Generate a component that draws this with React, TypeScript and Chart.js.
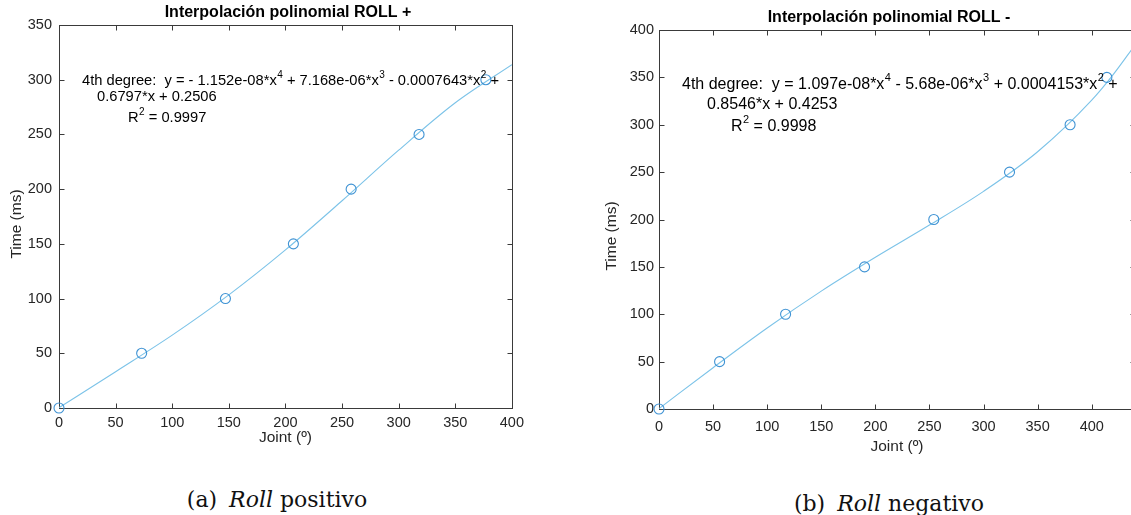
import React, { useEffect, useRef } from "react";
import { Chart, registerables } from "chart.js";

Chart.register(...registerables);

// ---------- data ----------
const posJoint = [0, 73, 147, 207, 258, 318, 377];
const posTime = [0, 50, 100, 150, 200, 250, 300];
const posFitJoint = [0, 50, 100, 150, 200, 250, 300, 350, 400];
const posFitTime = [0.3, 33.2, 66.6, 103.4, 144.5, 189.4, 235.6, 278.9, 313.7];
const posXTicks = [0, 50, 100, 150, 200, 250, 300, 350, 400];
const posYTicks = [0, 50, 100, 150, 200, 250, 300, 350];

const negJoint = [0, 56, 117, 190, 254, 324, 380, 414];
const negTime = [0, 50, 100, 150, 200, 250, 300, 350];
const negFitJoint = [0, 50, 100, 150, 200, 250, 300, 350, 400, 420, 440];
const negFitTime = [0.4, 43.6, 85.5, 124.4, 160.1, 194.1, 229.7, 271.5, 326.0, 353.2, 384.2];
const negXTicks = [0, 50, 100, 150, 200, 250, 300, 350, 400];
const negYTicks = [0, 50, 100, 150, 200, 250, 300, 350, 400];

const posTitle = "Interpolación polinomial ROLL +";
const negTitle = "Interpolación polinomial ROLL -";
const posEquation = [
  "4th degree:  y = - 1.152e-08*x^4 + 7.168e-06*x^3 - 0.0007643*x^2 +",
  "0.6797*x + 0.2506",
  "R^2 = 0.9997",
];
const negEquation = [
  "4th degree:  y = 1.097e-08*x^4 - 5.68e-06*x^3 + 0.0004153*x^2 +",
  "0.8546*x + 0.4253",
  "R^2 = 0.9998",
];
const xLabel = "Joint (º)";
const yLabel = "Time (ms)";

// ---------- styles ----------
const SANS = '"Liberation Sans", Arial, Helvetica, sans-serif';
const TXT = "#262626";
const AXIS = "#3a3a3a";
const LINE_C = "#7cc3e8";
const MARK_C = "#3f93d4";
const TICK_SIZE = 14.5;
const LABEL_SIZE = 15.5;
const TITLE_SIZE = 16;

type PanelLayout = {
  left: number;
  width: number;
  height: number;
  yAxisW: number;
  padTop: number;
  padRight: number;
  plotBottom: number;
  xMax: number;
  yMax: number;
  titleX: number;
  titleY: number;
  eqSize: number;
  eqPos: { x: number; y: number }[];
  xTitleBottom: number;
  xTickPad: number;
  yTitleX: number;
  yTitleY: number;
  yTickPad: number;
};

function drawRich(
  ctx: CanvasRenderingContext2D,
  text: string,
  x: number,
  y: number,
  size: number
) {
  const parts = text.split(/\^(\d)/);
  const sup = Math.round(size * 0.69);
  let cx = x;
  ctx.textAlign = "left";
  ctx.textBaseline = "middle";
  parts.forEach((p, i) => {
    if (!p) return;
    if (i % 2 === 1) {
      ctx.font = `${sup}px ${SANS}`;
      ctx.fillText(p, cx + 0.5, y - size * 0.42);
      cx += ctx.measureText(p).width + 0.5;
    } else {
      ctx.font = `${size}px ${SANS}`;
      ctx.fillText(p, cx, y);
      cx += ctx.measureText(p).width;
    }
  });
}

function makeDecor(title: string, eq: string[], L: PanelLayout) {
  return {
    id: "matlabDecor",
    beforeDatasetsDraw(chart: any) {
      const { ctx, chartArea: a, scales } = chart;
      ctx.save();
      ctx.strokeStyle = AXIS;
      ctx.lineWidth = 1;
      const l = Math.round(a.left) + 0.5;
      const r = Math.round(a.right) + 0.5;
      const t = Math.round(a.top) + 0.5;
      const b = Math.round(a.bottom) + 0.5;
      ctx.strokeRect(l, t, r - l, b - t);
      const tl = 5;
      ctx.beginPath();
      scales.x.ticks.forEach((tk: any) => {
        const px = Math.round(scales.x.getPixelForValue(tk.value)) + 0.5;
        ctx.moveTo(px, b);
        ctx.lineTo(px, b - tl);
        ctx.moveTo(px, t);
        ctx.lineTo(px, t + tl);
      });
      scales.y.ticks.forEach((tk: any) => {
        const py = Math.round(scales.y.getPixelForValue(tk.value)) + 0.5;
        ctx.moveTo(l, py);
        ctx.lineTo(l + tl, py);
        ctx.moveTo(r, py);
        ctx.lineTo(r - tl, py);
      });
      ctx.stroke();
      ctx.restore();
    },
    afterDatasetsDraw(chart: any) {
      const { ctx } = chart;
      ctx.save();
      ctx.fillStyle = "#000";
      ctx.font = `bold ${TITLE_SIZE}px ${SANS}`;
      ctx.textAlign = "center";
      ctx.textBaseline = "middle";
      ctx.fillText(title, L.titleX - L.left, L.titleY);
      // y axis title
      ctx.save();
      ctx.fillStyle = TXT;
      ctx.font = `${LABEL_SIZE}px ${SANS}`;
      ctx.translate(L.yTitleX - L.left, L.yTitleY);
      ctx.rotate(-Math.PI / 2);
      ctx.fillText(yLabel, 0, 0);
      ctx.restore();
      ctx.fillStyle = "#000";
      eq.forEach((line, i) => {
        drawRich(ctx, line, L.eqPos[i].x - L.left, L.eqPos[i].y, L.eqSize);
      });
      ctx.restore();
    },
  };
}

function Panel(props: {
  joint: number[];
  time: number[];
  fitJoint: number[];
  fitTime: number[];
  xTicks: number[];
  yTicks: number[];
  title: string;
  eq: string[];
  L: PanelLayout;
}) {
  const ref = useRef<HTMLCanvasElement | null>(null);
  const { joint, time, fitJoint, fitTime, xTicks, yTicks, title, eq, L } = props;
  useEffect(() => {
    if (!ref.current) return;
    const chart = new Chart(ref.current, {
      type: "scatter",
      data: {
        datasets: [
          {
            type: "line",
            data: fitJoint.map((x, i) => ({ x, y: fitTime[i] })),
            borderColor: LINE_C,
            borderWidth: 1.1,
            pointRadius: 0,
            cubicInterpolationMode: "monotone",
            fill: false,
            order: 2,
          } as any,
          {
            type: "scatter",
            data: joint.map((x, i) => ({ x, y: time[i] })),
            borderColor: MARK_C,
            backgroundColor: "rgba(0,0,0,0)",
            pointRadius: 5,
            borderWidth: 1.1,
            clip: false,
            order: 1,
          } as any,
        ],
      },
      options: {
        responsive: false,
        animation: false,
        devicePixelRatio: 1,
        events: [],
        layout: { padding: { left: 0, right: L.padRight, top: L.padTop, bottom: 0 } },
        plugins: {
          legend: { display: false },
          tooltip: { enabled: false },
          title: { display: false },
        },
        scales: {
          x: {
            type: "linear",
            min: 0,
            max: L.xMax,
            afterBuildTicks: (s: any) => {
              s.ticks = xTicks.map((v) => ({ value: v }));
            },
            afterFit: (s: any) => {
              s.height = L.height - L.plotBottom;
            },
            grid: { display: false, drawTicks: false },
            border: { display: false },
            ticks: {
              font: { family: SANS, size: TICK_SIZE },
              color: TXT,
              padding: L.xTickPad,
              maxRotation: 0,
              autoSkip: false,
            },
            title: {
              display: true,
              text: xLabel,
              color: TXT,
              font: { family: SANS, size: LABEL_SIZE },
              padding: { top: 0, bottom: L.xTitleBottom },
            },
          },
          y: {
            type: "linear",
            min: 0,
            max: L.yMax,
            afterBuildTicks: (s: any) => {
              s.ticks = yTicks.map((v) => ({ value: v }));
            },
            afterFit: (s: any) => {
              s.width = L.yAxisW;
            },
            grid: { display: false, drawTicks: false },
            border: { display: false },
            ticks: {
              font: { family: SANS, size: TICK_SIZE },
              color: TXT,
              padding: L.yTickPad,
              autoSkip: false,
            },
            title: { display: false },
          },
        },
      } as any,
      plugins: [makeDecor(title, eq, L) as any],
    });
    return () => chart.destroy();
  }, []);
  return (
    <canvas
      ref={ref}
      width={L.width}
      height={L.height}
      style={{ position: "absolute", left: L.left, top: 0, width: L.width, height: L.height }}
    />
  );
}

const posLayout: PanelLayout = {
  left: 0,
  width: 530,
  height: 470,
  yAxisW: 59,
  padTop: 25,
  padRight: 13,
  plotBottom: 408,
  xMax: 400,
  yMax: 350,
  titleX: 288,
  titleY: 13,
  eqSize: 14.7,
  eqPos: [
    { x: 82, y: 81 },
    { x: 97, y: 97 },
    { x: 128, y: 118 },
  ],
  xTitleBottom: 23,
  xTickPad: 6,
  yTitleX: 17,
  yTitleY: 224,
  yTickPad: 7,
};

const negLayout: PanelLayout = {
  left: 595,
  width: 565,
  height: 470,
  yAxisW: 64,
  padTop: 30,
  padRight: 25,
  plotBottom: 409,
  xMax: 440,
  yMax: 400,
  titleX: 889,
  titleY: 18,
  eqSize: 16,
  eqPos: [
    { x: 682, y: 85 },
    { x: 707, y: 105 },
    { x: 731, y: 127 },
  ],
  xTitleBottom: 14,
  xTickPad: 9,
  yTitleX: 612,
  yTitleY: 236,
  yTickPad: 5,
};

const SERIF = '"DejaVu Serif", "Liberation Serif", serif';

export default function App() {
  return (
    <div
      style={{
        position: "fixed",
        left: 0,
        top: 0,
        width: 1131,
        height: 515,
        overflow: "hidden",
        background: "#fff",
      }}
    >
      <Panel
        joint={posJoint}
        time={posTime}
        fitJoint={posFitJoint}
        fitTime={posFitTime}
        xTicks={posXTicks}
        yTicks={posYTicks}
        title={posTitle}
        eq={posEquation}
        L={posLayout}
      />
      <Panel
        joint={negJoint}
        time={negTime}
        fitJoint={negFitJoint}
        fitTime={negFitTime}
        xTicks={negXTicks}
        yTicks={negYTicks}
        title={negTitle}
        eq={negEquation}
        L={negLayout}
      />
      <div
        style={{
          position: "absolute",
          left: 177,
          width: 200,
          top: 486,
          textAlign: "center",
          fontFamily: SERIF,
          fontSize: 22,
          lineHeight: "28px",
          color: "#111",
          whiteSpace: "nowrap",
        }}
      >
        (a)<span style={{ marginLeft: 12 }} />
        <i>Roll</i> positivo
      </div>
      <div
        style={{
          position: "absolute",
          left: 789,
          width: 200,
          top: 490,
          textAlign: "center",
          fontFamily: SERIF,
          fontSize: 22,
          lineHeight: "28px",
          color: "#111",
          whiteSpace: "nowrap",
        }}
      >
        (b)<span style={{ marginLeft: 12 }} />
        <i>Roll</i> negativo
      </div>
    </div>
  );
}
